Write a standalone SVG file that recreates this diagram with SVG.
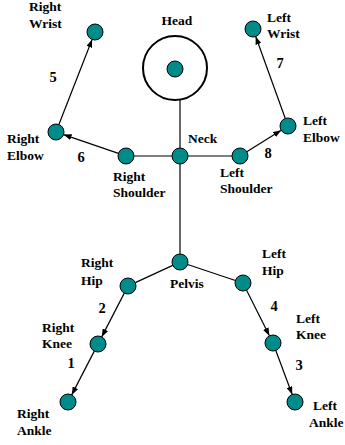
<svg xmlns="http://www.w3.org/2000/svg" width="345" height="445" viewBox="0 0 345 445">
<style>
text{font-family:"Liberation Serif","Times New Roman",serif;font-weight:bold;font-size:13.5px;fill:#000}
.num{font-size:14.5px}
.n{fill:#008B8B;stroke:#000;stroke-width:1}
.c line{stroke:#000;stroke-width:1.2}
</style>
<defs>
<marker id="ah" markerUnits="userSpaceOnUse" markerWidth="8" markerHeight="6" refX="8" refY="3" orient="auto">
<path d="M0,0 L8,3 L0,6 z" fill="#000"/>
</marker>
</defs>
<rect width="345" height="445" fill="#fff"/>
<g id="connectors" class="c">
<line x1="180" y1="100" x2="180" y2="254"/>
<line x1="134" y1="156" x2="172" y2="156"/>
<line x1="188" y1="156" x2="232" y2="156"/>
<line x1="172.7" y1="265.4" x2="135.3" y2="282.6"/>
<line x1="187.6" y1="264.5" x2="235.4" y2="280.5"/>
<line x1="118.4" y1="153.4" x2="63.6" y2="134.6" marker-end="url(#ah)"/>
<line x1="58.9" y1="124.5" x2="92.1" y2="39.5" marker-end="url(#ah)"/>
<line x1="246.8" y1="151.8" x2="281.2" y2="130.2" marker-end="url(#ah)"/>
<line x1="285.3" y1="118.5" x2="255.7" y2="36.5" marker-end="url(#ah)"/>
<line x1="124.3" y1="293.1" x2="101.7" y2="336.9" marker-end="url(#ah)"/>
<line x1="94.3" y1="351.1" x2="71.7" y2="394.9" marker-end="url(#ah)"/>
<line x1="246.6" y1="290.2" x2="269.4" y2="335.8" marker-end="url(#ah)"/>
<line x1="275.8" y1="350.5" x2="292.2" y2="394.5" marker-end="url(#ah)"/>
<text class="num" x="53" y="82" text-anchor="middle">5</text>
<text class="num" x="81" y="162" text-anchor="middle">6</text>
<text class="num" x="280" y="68" text-anchor="middle">7</text>
<text class="num" x="268" y="158" text-anchor="middle">8</text>
<text class="num" x="102" y="313" text-anchor="middle">2</text>
<text class="num" x="71" y="368" text-anchor="middle">1</text>
<text class="num" x="274" y="311" text-anchor="middle">4</text>
<text class="num" x="299" y="370" text-anchor="middle">3</text>
</g>
<g id="head">
<circle cx="175" cy="68" r="32" fill="none" stroke="#000" stroke-width="2"/>
<circle class="n" cx="175" cy="69" r="8"/>
<text x="177" y="25" text-anchor="middle">Head</text>
</g>
<g id="right-wrist">
<circle class="n" cx="95" cy="32" r="8"/>
<text x="29" y="11">Right</text><text x="29" y="28">Wrist</text>
</g>
<g id="left-wrist">
<circle class="n" cx="253" cy="29" r="8"/>
<text x="267" y="22">Left</text><text x="267" y="38">Wrist</text>
</g>
<g id="right-elbow">
<circle class="n" cx="56" cy="132" r="8"/>
<text x="7" y="143">Right</text><text x="7" y="160">Elbow</text>
</g>
<g id="left-elbow">
<circle class="n" cx="288" cy="126" r="8"/>
<text x="303" y="125">Left</text><text x="303" y="142">Elbow</text>
</g>
<g id="right-shoulder">
<circle class="n" cx="126" cy="156" r="8"/>
<text x="113" y="181">Right</text><text x="113" y="197">Shoulder</text>
</g>
<g id="neck">
<circle class="n" cx="180" cy="156" r="8"/>
<text x="188" y="143">Neck</text>
</g>
<g id="left-shoulder">
<circle class="n" cx="240" cy="156" r="8"/>
<text x="220" y="177">Left</text><text x="220" y="193">Shoulder</text>
</g>
<g id="pelvis">
<circle class="n" cx="180" cy="262" r="8"/>
<text x="170" y="288">Pelvis</text>
</g>
<g id="right-hip">
<circle class="n" cx="128" cy="286" r="8"/>
<text x="81" y="267">Right</text><text x="81" y="285">Hip</text>
</g>
<g id="left-hip">
<circle class="n" cx="243" cy="283" r="8"/>
<text x="262" y="258">Left</text><text x="262" y="275">Hip</text>
</g>
<g id="right-knee">
<circle class="n" cx="98" cy="344" r="8"/>
<text x="42" y="332">Right</text><text x="42" y="348">Knee</text>
</g>
<g id="left-knee">
<circle class="n" cx="273" cy="343" r="8"/>
<text x="296" y="323">Left</text><text x="296" y="339">Knee</text>
</g>
<g id="right-ankle">
<circle class="n" cx="68" cy="402" r="8"/>
<text x="17" y="418">Right</text><text x="17" y="435">Ankle</text>
</g>
<g id="left-ankle">
<circle class="n" cx="295" cy="402" r="8"/>
<text x="313" y="410">Left</text><text x="309" y="427">Ankle</text>
</g>
</svg>
